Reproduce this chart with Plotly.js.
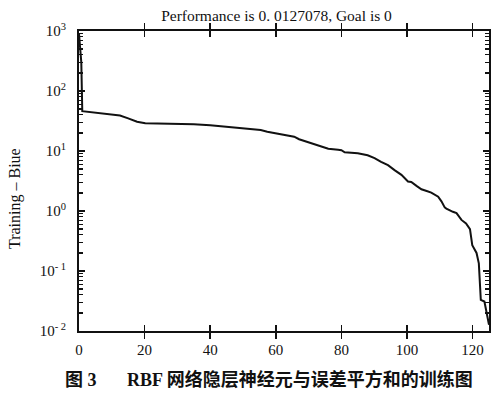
<!DOCTYPE html>
<html>
<head>
<meta charset="utf-8">
<script src="https://cdn.plot.ly/plotly-3.0.1.min.js"></script>
<style>
html,body{margin:0;padding:0;background:#fff;}
#chart{width:500px;height:398px;}
</style>
</head>
<body>
<div id="chart"></div>
<script>
const titleText = "Performance is 0. 0127078, Goal is 0";
const yTitle = "Training – Biue";
const captionLeft = "图 3";
const captionRight = "RBF 网络隐层神经元与误差平方和的训练图";
const xTickVals = [0, 20, 40, 60, 80, 100, 120];
const yTickVals = [0.01, 0.1, 1, 10, 100, 1000];
const yTickText = ["10<sup>- 2</sup>", "10<sup>- 1</sup>", "10<sup>0</sup>", "10<sup>1</sup>", "10<sup>2</sup>", "10<sup>3</sup>"];
const yMinorVals = [];
[0.01, 0.1, 1, 10, 100].forEach(d => { for (let k = 2; k <= 9; k++) yMinorVals.push(d * k); });

const neurons = [0, 0.7, 1, 5, 10, 12.5, 15, 17.7, 20.2, 25, 30, 35, 40, 45, 49.3, 51.8, 55.4, 57.4, 60.5, 64.6, 65.6, 67.1, 69, 70.7, 73.8, 76, 79, 80, 81, 85, 88, 90.1, 92.1, 94.2, 96.2, 98.3, 100.3, 101.3, 103, 104.4, 106, 107.4, 109.5, 110.5, 111.5, 112, 114, 115.1, 116.6, 118, 119.2, 119.9, 121.2, 121.9, 122.5, 123.6, 125];
const sse = [900, 300, 46, 43.5, 41, 39, 35, 30.8, 29, 28.8, 28.2, 27.8, 26.8, 25.4, 23.9, 23.3, 22.4, 21, 19.7, 17.8, 17.3, 15.7, 14.6, 13.4, 11.8, 10.9, 10.5, 10.3, 9.5, 9.2, 8.5, 7.6, 6.6, 5.8, 4.8, 4.0, 3.1, 3.05, 2.6, 2.3, 2.15, 2.02, 1.73, 1.45, 1.15, 1.1, 0.97, 0.92, 0.71, 0.62, 0.5, 0.27, 0.2, 0.134, 0.033, 0.031, 0.0127];

const serif = "Liberation Serif";
const ink = '#111';

const trace = {
  x: neurons, y: sse, type: 'scatter', mode: 'lines',
  line: {color: ink, width: 2}, hoverinfo: 'skip'
};
const helper = {
  x: [0], y: [1], type: 'scatter', mode: 'markers', yaxis: 'y2',
  marker: {opacity: 0}, hoverinfo: 'skip'
};

const layout = {
  width: 500, height: 398,
  margin: {l: 79, r: 11, t: 31, b: 67},
  paper_bgcolor: '#fff', plot_bgcolor: 'rgba(0,0,0,0)',
  showlegend: false,
  font: {family: serif, color: ink, size: 14},
  title: {text: titleText, font: {family: serif, size: 15.5, color: ink}, x: 0.553, xanchor: 'center', y: 0.962, yanchor: 'middle'},
  xaxis: {
    range: [0, 125], tickvals: xTickVals, ticktext: xTickVals.map(String),
    ticks: 'inside', ticklen: 6, tickwidth: 1.5, tickcolor: ink,
    showline: true, linecolor: ink, linewidth: 2, mirror: 'allticks',
    showgrid: false, zeroline: false, ticklabelstandoff: 4,
    tickfont: {family: serif, size: 15, color: ink}
  },
  yaxis: {
    type: 'log', range: [-2, 3], tickvals: yTickVals, ticktext: yTickText,
    ticks: 'inside', ticklen: 6, tickwidth: 1.5, tickcolor: ink,
    showline: true, linecolor: ink, linewidth: 2, mirror: 'allticks',
    showgrid: false, zeroline: false, ticklabelstandoff: 8,
    tickfont: {family: serif, size: 15, color: ink},
    title: {text: ''}
  },
  yaxis2: {
    type: 'log', range: [-2, 3], overlaying: 'y', side: 'left',
    tickmode: 'array', tickvals: yMinorVals, ticktext: yMinorVals.map(() => ''),
    ticks: 'inside', ticklen: 4, tickwidth: 1.2, tickcolor: ink,
    showline: true, linecolor: ink, linewidth: 2, mirror: 'allticks',
    showgrid: false, zeroline: false
  },
  annotations: [
    {text: yTitle, xref: 'paper', yref: 'paper', x: -0.156, y: 0.44, xanchor: 'center', yanchor: 'middle', textangle: -90, showarrow: false, font: {family: serif, size: 16, color: ink}},
    {text: '<b>' + captionLeft + '</b>', xref: 'paper', yref: 'paper', x: -0.039, y: -0.163, xanchor: 'left', yanchor: 'middle', showarrow: false, font: {family: "Liberation Serif, Noto Sans CJK SC", size: 18, color: ink}},
    {text: '<b>' + captionRight + '</b>', xref: 'paper', yref: 'paper', x: 0.966, y: -0.163, xanchor: 'right', yanchor: 'middle', showarrow: false, font: {family: "Liberation Serif, Noto Sans CJK SC", size: 18, color: ink}}
  ]
};

Plotly.newPlot('chart', [trace, helper], layout, {staticPlot: true, displayModeBar: false});
</script>
</body>
</html>
